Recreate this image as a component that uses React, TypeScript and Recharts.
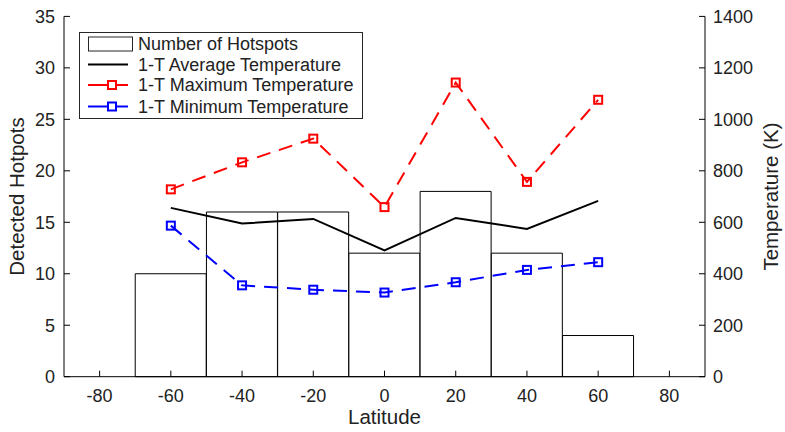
import { ComposedChart, Bar, Line, XAxis, YAxis, Legend } from 'recharts';

const latitudes = [-60, -40, -20, 0, 20, 40, 60];
const hotspotCounts = [10, 16, 16, 12, 18, 12, 4];
const avgTemp = [656, 595, 613, 491, 617, 574, 683];
const maxTemp = [728, 833, 925, 659, 1143, 757, 1076];
const minTemp = [587, 355, 338, 327, 367, 415, 445];

const latTicks = [-80, -60, -40, -20, 0, 20, 40, 60, 80];
const countTicks = [0, 5, 10, 15, 20, 25, 30, 35];
const tempTicks = [0, 200, 400, 600, 800, 1000, 1200, 1400];

const data = latitudes.map((lat, i) => ({
  lat,
  count: hotspotCounts[i],
  avg: avgTemp[i],
  max: maxTemp[i],
  min: minTemp[i],
}));

const FONT = '"Liberation Sans", Arial, sans-serif';
const TEXT = '#222';
const RED = '#ff0000';
const BLUE = '#0000ff';
const DASH = '14 9';

const squareDot = (color: string) => (props: any) => {
  const { cx, cy, index } = props;
  if (cx == null || cy == null) return <g key={`d-${index}`} />;
  return (
    <rect
      key={`sq-${color}-${index}`}
      x={cx - 4}
      y={cy - 4}
      width={8}
      height={8}
      fill="none"
      stroke={color}
      strokeWidth={2}
    />
  );
};

const xTitle = (props: any) => {
  const { x, y, width } = props.viewBox;
  return (
    <text x={x + width / 2} y={y + 47.3} textAnchor="middle" fontSize={20.5} fill={TEXT} fontFamily={FONT}>
      Latitude
    </text>
  );
};

const leftTitle = (props: any) => {
  const { x, y, height } = props.viewBox;
  const cx = x + 24.5;
  const cy = y + height / 2;
  return (
    <text x={cx} y={cy} transform={`rotate(-90 ${cx} ${cy})`} textAnchor="middle" fontSize={20.5} fill={TEXT} fontFamily={FONT}>
      Detected Hotpots
    </text>
  );
};

const rightTitle = (props: any) => {
  const { x, y, height } = props.viewBox;
  const cx = x + 73;
  const cy = y + height / 2;
  return (
    <text x={cx} y={cy} transform={`rotate(-90 ${cx} ${cy})`} textAnchor="middle" fontSize={20.5} fill={TEXT} fontFamily={FONT}>
      Temperature (K)
    </text>
  );
};

function LegendBox() {
  const rows = [12, 32.5, 53, 74.5];
  const textX = 59;
  return (
    <svg width={284} height={87} style={{ display: 'block' }}>
      <rect x={0.5} y={0.5} width={283} height={86} fill="#fff" stroke="#262626" strokeWidth={1} />
      <rect x={9.5} y={rows[0] - 7} width={44} height={14} fill="#fff" stroke="#262626" strokeWidth={1} />
      <line x1={9} x2={49} y1={rows[1]} y2={rows[1]} stroke="#000" strokeWidth={2} />
      <line x1={9} x2={49} y1={rows[2]} y2={rows[2]} stroke={RED} strokeWidth={2} />
      <rect x={29} y={rows[2] - 4} width={8} height={8} fill="#fff" stroke={RED} strokeWidth={2} />
      <line x1={9} x2={49} y1={rows[3]} y2={rows[3]} stroke={BLUE} strokeWidth={2} />
      <rect x={29} y={rows[3] - 4} width={8} height={8} fill="#fff" stroke={BLUE} strokeWidth={2} />
      {['Number of Hotspots', '1-T Average Temperature', '1-T Maximum Temperature', '1-T Minimum Temperature'].map((t, i) => (
        <text key={t} x={textX} y={rows[i] + 6.4} fontSize={18} fill={TEXT} fontFamily={FONT}>
          {t}
        </text>
      ))}
    </svg>
  );
}

export default function App() {
  const tickStyle = { fill: TEXT, fontSize: 18, fontFamily: FONT };
  return (
    <div style={{ position: 'absolute', left: 0, top: 0, background: '#fff', fontFamily: FONT }}>
      <ComposedChart
        width={785}
        height={432}
        data={data}
        margin={{ top: 16.4, right: 0, bottom: 0, left: 0 }}
        barCategoryGap={0}
        barGap={0}
      >
        <XAxis
          type="number"
          dataKey="lat"
          domain={[-90, 90]}
          ticks={latTicks}
          interval={0}
          height={55.3}
          stroke="#000"
          tickSize={-6}
          tickMargin={19}
          tick={tickStyle}
          label={xTitle}
        />
        <YAxis
          yAxisId="left"
          domain={[0, 35]}
          ticks={countTicks}
          interval={0}
          width={64}
          stroke="#000"
          tickSize={-6}
          tickMargin={15}
          tick={tickStyle}
          label={leftTitle}
        />
        <YAxis
          yAxisId="right"
          orientation="right"
          domain={[0, 1400]}
          ticks={tempTicks}
          interval={0}
          width={80}
          stroke="#000"
          tickSize={-6}
          tickMargin={14}
          tick={tickStyle}
          label={rightTitle}
        />
        <Legend
          layout="vertical"
          align="center"
          verticalAlign="middle"
          content={() => <LegendBox />}
          wrapperStyle={{ position: 'absolute', left: 79, top: 32, width: 284, height: 87 }}
        />
        <Bar yAxisId="left" dataKey="count" fill="#fff" stroke="#000" strokeWidth={1} isAnimationActive={false} />
        <Line yAxisId="right" type="linear" dataKey="avg" stroke="#000" strokeWidth={2} dot={false} isAnimationActive={false} />
        <Line
          yAxisId="right"
          type="linear"
          dataKey="max"
          stroke={RED}
          strokeWidth={2}
          strokeDasharray={DASH}
          dot={squareDot(RED)}
          isAnimationActive={false}
        />
        <Line
          yAxisId="right"
          type="linear"
          dataKey="min"
          stroke={BLUE}
          strokeWidth={2}
          strokeDasharray={DASH}
          dot={squareDot(BLUE)}
          isAnimationActive={false}
        />
      </ComposedChart>
    </div>
  );
}
